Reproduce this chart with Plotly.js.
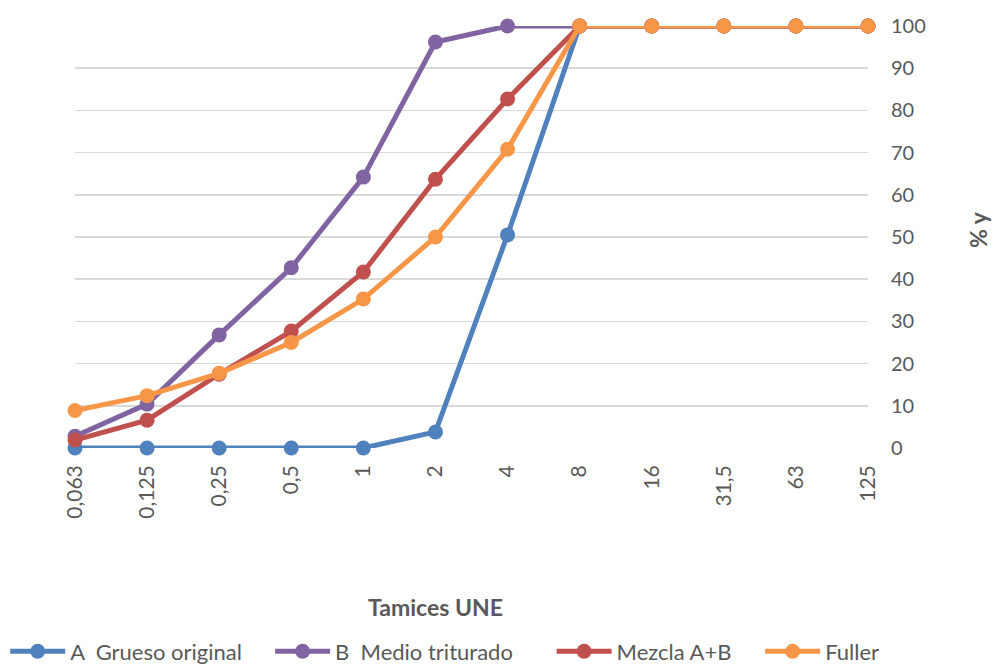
<!DOCTYPE html>
<html>
<head>
<meta charset="utf-8">
<script src="https://cdn.plot.ly/plotly-3.0.1.min.js"></script>
<style>html,body{margin:0;padding:0;background:#fff;}#chart{width:993px;height:664px;}</style>
</head>
<body>
<div id="chart"></div>
<script>
const tamices = ["0,063","0,125","0,25","0,5","1","2","4","8","16","31,5","63","125"];
const grueso = [0, 0, 0, 0, 0, 3.8, 50.5, 100, 100, 100, 100, 100];
const medio = [2.8, 10.4, 26.8, 42.7, 64.2, 96.2, 100, 100, 100, 100, 100, 100];
const mezcla = [1.9, 6.6, 17.5, 27.7, 41.7, 63.7, 82.7, 100, 100, 100, 100, 100];
const fuller = [8.9, 12.4, 17.7, 25.0, 35.3, 50.0, 70.8, 100, 100, 100, 100, 100];
const seriesNames = ["A\u00a0\u00a0Grueso original", "B\u00a0\u00a0Medio triturado", "Mezcla A+B", "Fuller"];
const colors = ["#4F81BD", "#8064A2", "#C0504D", "#F79646"];
const values = [grueso, medio, mezcla, fuller];
const legendIds = ["legend", "legend2", "legend3", "legend4"];
const legendX = [-0.088, 0.246, 0.601, 0.864];

const traces = values.map((v, i) => ({
  x: tamices, y: v, type: "scatter", mode: "lines+markers", name: seriesNames[i],
  line: {color: colors[i], width: 5}, marker: {color: colors[i], size: 15},
  cliponaxis: false, legend: legendIds[i]
}));

const font = "Lato, 'Open Sans', sans-serif";
const layout = {
  width: 993, height: 664,
  margin: {l: 75, r: 125, t: 26, b: 216, autoexpand: false},
  paper_bgcolor: "#fff", plot_bgcolor: "#fff",
  font: {family: font, color: "#595959", size: 20},
  showlegend: true,
  xaxis: {type: "category", range: [0, 11], tickangle: -90, showgrid: false,
          showline: false, zeroline: false, ticks: "", ticklabelstandoff: 12,
          tickfont: {size: 21, color: "#595959"}},
  yaxis: {side: "right", range: [0, 100], dtick: 10, showgrid: true, gridcolor: "#D9D9D9",
          gridwidth: 1.5, zeroline: false, showline: false, ticks: "", ticklabelstandoff: 22,
          tickfont: {size: 20, color: "#595959"}},
  annotations: [
    {text: "<b>Tamices UNE</b>", xref: "paper", yref: "paper", x: 0.454, y: -0.377,
     xanchor: "center", yanchor: "middle", showarrow: false, font: {size: 23, color: "#595959"}},
    {text: "<b>% y</b>", xref: "paper", yref: "paper", x: 1.139, y: 0.517,
     xanchor: "center", yanchor: "middle", textangle: -90, showarrow: false,
     font: {size: 23, color: "#595959"}}
  ]
};
legendIds.forEach((id, i) => {
  layout[id] = {orientation: "h", x: legendX[i], y: -0.482, xanchor: "left", yanchor: "middle",
                itemwidth: 55, font: {size: 22, color: "#595959"}, bgcolor: "rgba(0,0,0,0)"};
});
Plotly.newPlot("chart", traces, layout, {displayModeBar: false, staticPlot: true});
</script>
</body>
</html>
